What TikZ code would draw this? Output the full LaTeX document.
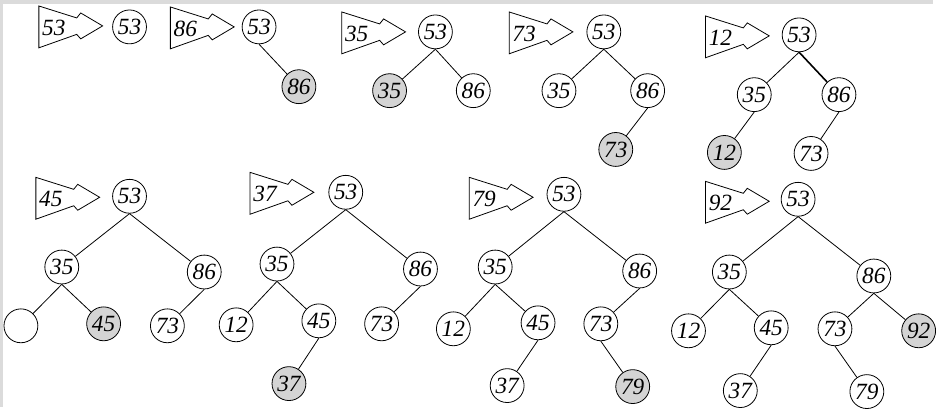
\documentclass[tikz,border=0pt]{standalone}
\usepackage{fontspec}
\setmainfont{Liberation Serif}
\usepackage{tikz}
\usetikzlibrary{positioning}

\begin{document}
\begin{tikzpicture}[
    x=0.75pt,
    y=-0.75pt,
    key/.style={
        circle,
        draw,
        line width=0.6pt,
        minimum size=25.5pt,
        inner sep=0pt,
        font=\itshape\fontsize{17.5}{17.5}\selectfont
    },
    newkey/.style={key, fill=black!17},
    link/.style={line width=0.6pt},
    ins/.pic={
        \draw[line width=0.6pt] (-64,-20) -- (-26,-8) -- (-22,-13) -- (0,0)
            -- (-22,13) -- (-26,8.5) -- (-64,22) -- cycle;
        \node[inner sep=0pt, font=\itshape\fontsize{17.5}{17.5}\selectfont] (-val) at (-49,2) {#1};
    }
]

% page
\fill[black!14] (0,0) rectangle (936,408);
\fill[white] (3,4) rectangle (936,408);

% insert 53
\pic (ia) at (103,26) {ins=53};
\node[key] (a53) at (130,27) {53};

% insert 86
\pic (ib) at (235,27) {ins=86};
\node[key] (b53) at (260,27) {53};
\node[newkey] (b86) at (300,87) {86};

\draw[link] (b53.south) -- (b86);

% insert 35
\pic (ic) at (407,32) {ins=35};
\node[key] (c53) at (437,32) {53};
\node[newkey] (c35) at (391,91) {35};
\node[key] (c86) at (475,91) {86};

\draw[link] (c53.south) -- (c35);
\draw[link] (c53.south) -- (c86);

% insert 73
\pic (id) at (575,32) {ins=73};
\node[key] (d53) at (606,32) {53};
\node[key] (d35) at (561,91) {35};
\node[key] (d86) at (650,91) {86};
\node[newkey] (d73) at (618,150) {73};

\draw[link] (d53.south) -- (d35);
\draw[link] (d53.south) -- (d86);
\draw[link] (d86.south) -- (d73);

% insert 12
\pic (ie) at (772,36) {ins=12};
\node[key] (e53) at (802,35) {53};
\node[key] (e35) at (757,95) {35};
\node[key] (e86) at (842,95) {86};
\node[newkey] (e12) at (727,153) {12};
\node[key] (e73) at (814,154) {73};

\draw[link] (e53.south) -- (e35);
\draw[link, line width=1.2pt] (e53.south) -- (e86);
\draw[link] (e35.south) -- (e12);
\draw[link] (e86.south) -- (e73);

% insert 45
\pic (if) at (100,198) {ins=45};
\node[key] (f53) at (130,197) {53};
\node[key] (f35) at (62,268) {35};
\node[key] (f86) at (205,273) {86};
\node[key] (fnil) at (21,327) {};
\node[newkey] (f45) at (104,325) {45};
\node[key] (f73) at (168,327) {73};

\draw[link] (f53.south) -- (f35);
\draw[link] (f53.south) -- (f86);
\draw[link] (f35.south) -- (fnil);
\draw[link] (f35.south) -- (f45);
\draw[link] (f86.south) -- (f73);

% insert 37
\pic (ig) at (315,193) {ins=37};
\node[key] (g53) at (347,193) {53};
\node[key] (g35) at (278,265) {35};
\node[key] (g86) at (422,270) {86};
\node[key] (g12) at (237,326) {12};
\node[key] (g45) at (320,322) {45};
\node[key] (g73) at (383,325) {73};
\node[newkey] (g37) at (290,385) {37};

\draw[link] (g53.south) -- (g35);
\draw[link] (g53.south) -- (g86);
\draw[link] (g35.south) -- (g12);
\draw[link] (g35.south) -- (g45);
\draw[link] (g86.south) -- (g73);
\draw[link] (g45.south) -- (g37);

% insert 79
\pic (ih) at (535,198) {ins=79};
\node[key] (h53) at (566,195) {53};
\node[key] (h35) at (497,268) {35};
\node[key] (h86) at (642,272) {86};
\node[key] (h12) at (455,330) {12};
\node[key] (h45) at (540,324) {45};
\node[key] (h73) at (603,325) {73};
\node[key] (h37) at (509,387) {37};
\node[newkey] (h79) at (635,388) {79};

\draw[link] (h53.south) -- (h35);
\draw[link] (h53.south) -- (h86);
\draw[link] (h35.south) -- (h12);
\draw[link] (h35.south) -- (h45);
\draw[link] (h86.south) -- (h73);
\draw[link] (h45.south) -- (h37);
\draw[link] (h73.south) -- (h79);

% insert 92
\pic (ii) at (772,202) {ins=92};
\node[key] (i53) at (801,200) {53};
\node[key] (i35) at (732,273) {35};
\node[key] (i86) at (877,277) {86};
\node[key] (i12) at (691,332) {12};
\node[key] (i45) at (774,329) {45};
\node[key] (i73) at (838,330) {73};
\node[newkey] (i92) at (922,332) {92};
\node[key] (i37) at (743,392) {37};
\node[key] (i79) at (870,393) {79};

\draw[link] (i53.south) -- (i35);
\draw[link] (i53.south) -- (i86);
\draw[link] (i35.south) -- (i12);
\draw[link] (i35.south) -- (i45);
\draw[link] (i86.south) -- (i73);
\draw[link] (i86.south) -- (i92);
\draw[link] (i45.south) -- (i37);
\draw[link] (i73.south) -- (i79);

\end{tikzpicture}
\end{document}
